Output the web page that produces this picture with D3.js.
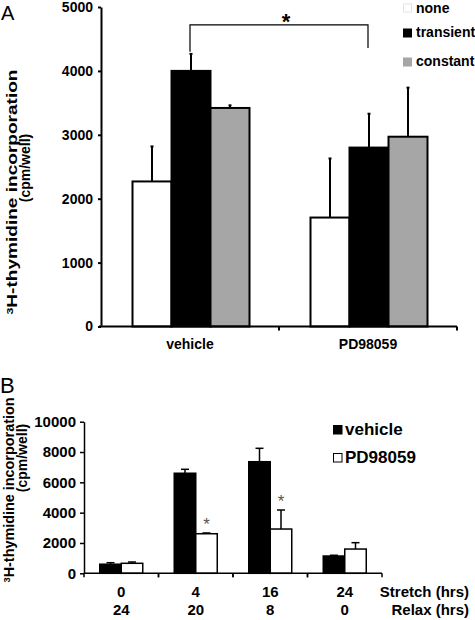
<!DOCTYPE html>
<html>
<head>
<meta charset="utf-8">
<script src="https://cdn.jsdelivr.net/npm/d3@7"></script>
<style>
  html, body { margin: 0; padding: 0; background: #fff; }
  svg { display: block; }
  text { font-family: Arial, "Liberation Sans", Helvetica, sans-serif; }
</style>
</head>
<body>
<svg id="chart" width="475" height="620"></svg>
<script>
// ---------- Panel A data ----------
const catsA = ["vehicle", "PD98059"];
const seriesA = ["none", "transient", "constant"];
const colorsA = ["#ffffff", "#000000", "#a6a6a6"];
const noneVals = [2270, 1705];
const noneErr = [548, 925];
const transientVals = [4000, 2800];
const transientErr = [266, 530];
const constantVals = [3420, 2970];
const constantErr = [41, 768];
const ticksA = [0, 1000, 2000, 3000, 4000, 5000];
const bracketA = [4300, 4720, 4360]; // left end, top, right end (value units)

// ---------- Panel B data ----------
const stretchHrs = ["0", "4", "16", "24"];
const relaxHrs = ["24", "20", "8", "0"];
const seriesB = ["vehicle", "PD98059"];
const vehicleVals = [600, 6600, 7360, 1140];
const vehicleErr = [100, 260, 885, 50];
const pdVals = [660, 2610, 2920, 1600];
const pdErr = [85, 50, 1255, 420];
const starsB = [false, true, true, false];
const ticksB = [0, 2000, 4000, 6000, 8000, 10000];

const svg = d3.select("#chart");
const FONT = 'Arial, "Liberation Sans", Helvetica, sans-serif';
const fmt = d3.format("d");

// ================= PANEL A =================
const yA = d3.scaleLinear().domain([0, 5000]).range([326.5, 7]);
const xA = d3.scaleBand().domain(catsA).range([101, 457]).padding(0);
const barWA = 39;
const gA = svg.append("g");

const valsA = [noneVals, transientVals, constantVals];
const errsA = [noneErr, transientErr, constantErr];

seriesA.forEach((s, si) => {
  catsA.forEach((c, ci) => {
    const cx = xA(c) + xA.bandwidth() / 2 + 1;
    const x0 = cx - barWA * 1.5 + si * barWA;
    const v = valsA[si][ci], e = errsA[si][ci];
    gA.append("line")
      .attr("x1", x0 + barWA / 2).attr("x2", x0 + barWA / 2)
      .attr("y1", yA(v)).attr("y2", yA(v + e))
      .attr("stroke", "#000").attr("stroke-width", 2);
    gA.append("line")
      .attr("x1", x0 + barWA / 2 - 1.5).attr("x2", x0 + barWA / 2 + 1.5)
      .attr("y1", yA(v + e)).attr("y2", yA(v + e))
      .attr("stroke", "#000").attr("stroke-width", 2);
    gA.append("rect")
      .attr("x", x0).attr("y", yA(v))
      .attr("width", barWA).attr("height", yA(0) - yA(v))
      .attr("fill", colorsA[si]).attr("stroke", "#000").attr("stroke-width", 2);
  });
});

// y axis A
const axA = gA.append("g").attr("transform", "translate(101,0)")
  .call(d3.axisLeft(yA).tickValues(ticksA).tickFormat(fmt).tickSize(3).tickSizeOuter(0).tickPadding(5));
axA.select(".domain").attr("stroke-width", 2);
axA.selectAll(".tick line").attr("stroke-width", 2);
axA.selectAll("text").attr("font-family", FONT).attr("font-size", 14).attr("font-weight", "bold").attr("fill", "#000");

// x axis A
const axAx = gA.append("g").attr("transform", "translate(0,326.5)");
axAx.append("line").attr("x1", 99).attr("x2", 457).attr("y1", 0).attr("y2", 0)
  .attr("stroke", "#000").attr("stroke-width", 2);
catsA.forEach(c => {
  const xr = xA(c) + xA.bandwidth();
  axAx.append("line").attr("x1", xr).attr("x2", xr).attr("y1", 0).attr("y2", 4)
    .attr("stroke", "#000").attr("stroke-width", 2);
  axAx.append("text").attr("x", xA(c) + xA.bandwidth() / 2).attr("y", 22)
    .attr("text-anchor", "middle").attr("font-size", 14).attr("font-weight", "bold")
    .text(c);
});

// bracket + star
const bxL = xA(catsA[0]) + xA.bandwidth() / 2;
const bxR = xA(catsA[1]) + xA.bandwidth() / 2;
gA.append("path")
  .attr("d", `M${bxL},${yA(bracketA[0])}V${yA(bracketA[1])}H${bxR}V${yA(bracketA[2])}`)
  .attr("fill", "none").attr("stroke", "#000").attr("stroke-width", 1.2);
gA.append("text").attr("x", (bxL + bxR) / 2 + 7).attr("y", 29)
  .attr("text-anchor", "middle").attr("font-size", 22).attr("font-weight", "bold").text("*");

// legend A
seriesA.forEach((s, i) => {
  const ly = [13, 37, 66][i];
  const by = [4, 29, 58][i];
  gA.append("rect").attr("x", 403.5).attr("y", by).attr("width", 8).attr("height", 8)
    .attr("fill", colorsA[i]).attr("stroke", i === 0 ? "#e4e4e4" : colorsA[i]).attr("stroke-width", 1);
  gA.append("text").attr("x", 416).attr("y", ly)
    .attr("font-size", 14).attr("font-weight", "bold").text(s);
});

// panel letter & y label A
svg.append("text").attr("x", 1).attr("y", 20).attr("font-size", 20).text("A");
const l1A = svg.append("text").attr("transform", "translate(17,192) rotate(-90)")
  .attr("text-anchor", "middle").attr("font-size", 14).attr("font-weight", "bold")
  .attr("textLength", 245).attr("lengthAdjust", "spacingAndGlyphs");
l1A.append("tspan").attr("font-size", 9).attr("dy", -4).text("3");
l1A.append("tspan").attr("dy", 4).text("H-thymidine incorporation");
svg.append("text").attr("transform", "translate(30,168) rotate(-90)")
  .attr("text-anchor", "middle").attr("font-size", 14).attr("font-weight", "bold")
  .text("(cpm/well)");

// ================= PANEL B =================
const yB = d3.scaleLinear().domain([0, 10000]).range([573.3, 421.7]);
const xB = d3.scaleBand().domain(stretchHrs).range([84, 382]).padding(0);
const barWB = 21.5;
const gB = svg.append("g");
const valsB = [vehicleVals, pdVals];
const errsB = [vehicleErr, pdErr];
const fillB = ["#000", "#fff"];

seriesB.forEach((s, si) => {
  stretchHrs.forEach((c, ci) => {
    const cx = xB(c) + xB.bandwidth() / 2;
    const x0 = cx - barWB + si * barWB;
    const v = valsB[si][ci], e = errsB[si][ci];
    gB.append("line")
      .attr("x1", x0 + barWB / 2).attr("x2", x0 + barWB / 2)
      .attr("y1", yB(v)).attr("y2", yB(v + e))
      .attr("stroke", "#000").attr("stroke-width", 1.5);
    gB.append("line")
      .attr("x1", x0 + barWB / 2 - 4).attr("x2", x0 + barWB / 2 + 4)
      .attr("y1", yB(v + e)).attr("y2", yB(v + e))
      .attr("stroke", "#000").attr("stroke-width", 1.5);
    gB.append("rect")
      .attr("x", x0).attr("y", yB(v))
      .attr("width", barWB).attr("height", yB(0) - yB(v))
      .attr("fill", fillB[si]).attr("stroke", "#000").attr("stroke-width", 1.5);
    if (si === 1 && starsB[ci]) {
      gB.append("text").attr("x", x0 + barWB / 2).attr("y", yB(v + e) - 3)
        .attr("text-anchor", "middle").attr("font-family", "'Liberation Serif', 'DejaVu Serif', serif")
        .attr("font-size", 17).attr("fill", "#555").text("*");
    }
  });
});

// y axis B
const axB = gB.append("g").attr("transform", "translate(84,0)")
  .call(d3.axisLeft(yB).tickValues(ticksB).tickFormat(fmt).tickSize(4).tickSizeOuter(0).tickPadding(4));
axB.select(".domain").attr("stroke-width", 1.5);
axB.selectAll(".tick line").attr("stroke-width", 1.5);
axB.selectAll("text").attr("font-family", FONT).attr("font-size", 15).attr("font-weight", "bold").attr("fill", "#000");

// x axis B
const axBx = gB.append("g").attr("transform", `translate(0,${yB(0)})`);
axBx.append("line").attr("x1", 84).attr("x2", 382).attr("y1", 0).attr("y2", 0)
  .attr("stroke", "#000").attr("stroke-width", 1.5);
stretchHrs.forEach((c, i) => {
  const xl = xB(c), xr = xB(c) + xB.bandwidth();
  [xl, xr].forEach(xx => axBx.append("line").attr("x1", xx).attr("x2", xx)
    .attr("y1", 0).attr("y2", 4).attr("stroke", "#000").attr("stroke-width", 1.5));
  const cx = xB(c) + xB.bandwidth() / 2;
  axBx.append("text").attr("x", cx).attr("y", 23.5).attr("text-anchor", "middle")
    .attr("font-size", 15).attr("font-weight", "bold").text(c);
  axBx.append("text").attr("x", cx).attr("y", 41.5).attr("text-anchor", "middle")
    .attr("font-size", 15).attr("font-weight", "bold").text(relaxHrs[i]);
});
axBx.append("text").attr("x", 469).attr("y", 23.5).attr("text-anchor", "end")
  .attr("font-size", 15).attr("font-weight", "bold").text("Stretch (hrs)");
axBx.append("text").attr("x", 469).attr("y", 41.5).attr("text-anchor", "end")
  .attr("font-size", 15).attr("font-weight", "bold").text("Relax (hrs)");

// legend B
seriesB.forEach((s, i) => {
  const ly = [435, 463][i];
  gB.append("rect").attr("x", 333.5).attr("y", ly - 9.5).attr("width", 8.5).attr("height", 8.5)
    .attr("fill", fillB[i]).attr("stroke", "#000").attr("stroke-width", 1);
  gB.append("text").attr("x", 345).attr("y", ly)
    .attr("font-size", 17).attr("font-weight", "bold").text(s);
});

// panel letter & y label B
svg.append("text").attr("x", 0).attr("y", 393).attr("font-size", 22).text("B");
const l1B = svg.append("text").attr("transform", "translate(14,490) rotate(-90)")
  .attr("text-anchor", "middle").attr("font-size", 14).attr("font-weight", "bold")
  .attr("textLength", 185).attr("lengthAdjust", "spacingAndGlyphs");
l1B.append("tspan").attr("font-size", 9).attr("dy", -4).text("3");
l1B.append("tspan").attr("dy", 4).text("H-thymidine incorporation");
svg.append("text").attr("transform", "translate(27,458) rotate(-90)")
  .attr("text-anchor", "middle").attr("font-size", 14).attr("font-weight", "bold")
  .text("(cpm/well)");
</script>
</body>
</html>
